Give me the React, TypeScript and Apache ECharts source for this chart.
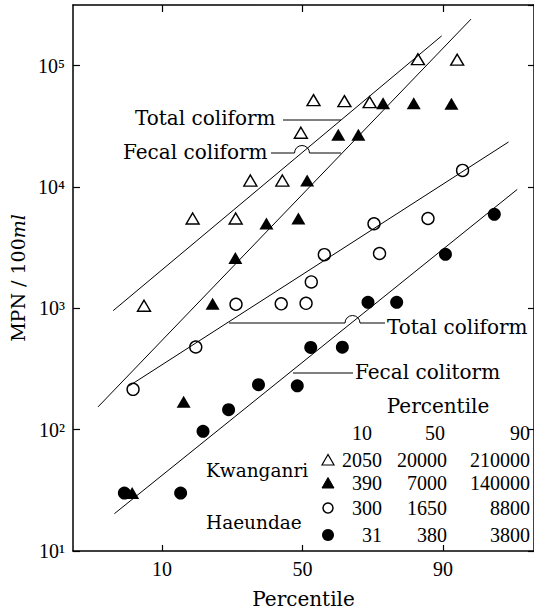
import React, { useEffect, useRef } from "react";
import * as echarts from "echarts";

// ---------- data (percentile %, MPN/100ml) ----------
const kwTotalPct = [7.4, 15.8, 27.1, 31.7, 42.7, 49.4, 54.0, 64.9, 73.0, 85.4, 92.1];
const kwTotalMPN = [1050, 5500, 5500, 11300, 11300, 28000, 52000, 51000, 50000, 113000, 112000];

const kwFecalPct = [6.0, 13.9, 20.6, 27.0, 37.1, 48.5, 51.7, 62.8, 69.5, 76.9, 84.5, 91.3];
const kwFecalMPN = [30, 170, 1090, 2600, 5000, 5500, 11300, 27000, 27000, 49000, 49000, 48500];

const hdTotalPct = [6.1, 16.5, 27.2, 42.3, 51.3, 53.2, 57.9, 74.3, 75.9, 87.4, 92.8];
const hdTotalMPN = [215, 480, 1080, 1090, 1100, 1650, 2770, 4980, 2830, 5500, 13700];

const hdFecalPct = [5.2, 13.3, 18.2, 25.0, 34.4, 48.1, 53.0, 64.2, 72.5, 80.5, 90.4, 96.0];
const hdFecalMPN = [30, 30, 97, 146, 235, 230, 476, 478, 1120, 1120, 2790, 5960];

// fitted lines: [start, end]
const kwTotalLinePct = [4.2, 89.8];
const kwTotalLineMPN = [957, 176000];
const kwFecalLinePct = [3.1, 93.8];
const kwFecalLineMPN = [154, 242000];
const hdTotalLinePct = [5.7, 97.0];
const hdTotalLineMPN = [230, 23500];
const hdFecalLinePct = [4.3, 97.5];
const hdFecalLineMPN = [20.3, 9550];

// axes
const xTickPct = [10, 50, 90];
const xRangePct = [1.81, 98.27];
const yMin = 10;
const yMax = 316228;

// summary table
const tablePct = [10, 50, 90];
const tableKwTotal = [2050, 20000, 210000];
const tableKwFecal = [390, 7000, 140000];
const tableHdTotal = [300, 1650, 8800];
const tableHdFecal = [31, 380, 3800];

// ---------- helpers ----------
function probit(p: number): number {
  const a = [-3.969683028665376e1, 2.209460984245205e2, -2.759285104469687e2, 1.38357751867269e2, -3.066479806614716e1, 2.506628277459239];
  const b = [-5.447609879822406e1, 1.615858368580409e2, -1.556989798598866e2, 6.680131188771972e1, -1.328068155288572e1];
  const c = [-7.784894002430293e-3, -3.223964580411365e-1, -2.400758277161838, -2.549732539343734, 4.374664141464968, 2.938163982698783];
  const d = [7.784695709041462e-3, 3.224671290700398e-1, 2.445134137142996, 3.754408661907416];
  const pl = 0.02425;
  if (p < pl) {
    const q = Math.sqrt(-2 * Math.log(p));
    return (((((c[0] * q + c[1]) * q + c[2]) * q + c[3]) * q + c[4]) * q + c[5]) / ((((d[0] * q + d[1]) * q + d[2]) * q + d[3]) * q + 1);
  }
  if (p <= 1 - pl) {
    const q = p - 0.5;
    const r = q * q;
    return ((((((a[0] * r + a[1]) * r + a[2]) * r + a[3]) * r + a[4]) * r + a[5]) * q) / (((((b[0] * r + b[1]) * r + b[2]) * r + b[3]) * r + b[4]) * r + 1);
  }
  const q = Math.sqrt(-2 * Math.log(1 - p));
  return -(((((c[0] * q + c[1]) * q + c[2]) * q + c[3]) * q + c[4]) * q + c[5]) / ((((d[0] * q + d[1]) * q + d[2]) * q + d[3]) * q + 1);
}
const z = (pct: number) => probit(pct / 100);
const pts = (pcts: number[], vals: number[]) => pcts.map((p, i) => [z(p), vals[i]]);

const SUP: Record<number, string> = { 1: "¹", 2: "²", 3: "³", 4: "⁴", 5: "⁵" };
const xTickZ = xTickPct.map(z);

const WORD_FONT = "'DejaVu Serif', serif";
const NUM_FONT = "'Liberation Serif', serif";

export default function App() {
  const ref = useRef<HTMLDivElement>(null);
  useEffect(() => {
    document.body.style.margin = "0";
    if (!ref.current) return;
    const chart = echarts.init(ref.current, undefined, { renderer: "svg" });

    const blk = "#000";
    const openStyle = { color: "rgba(255,255,255,0)", borderColor: blk, borderWidth: 1.4, opacity: 1 };
    const fillStyle = { color: blk, borderColor: blk, borderWidth: 0, opacity: 1 };

    const lineSeries = (pcts: number[], vals: number[]) => ({
      type: "line",
      data: pts(pcts, vals),
      showSymbol: false,
      symbol: "none",
      silent: true,
      lineStyle: { color: blk, width: 1 },
      z: 2,
    });

    const xLabel = (v: number) => {
      const i = xTickZ.findIndex((t) => Math.abs(t - v) < 1e-6);
      return i >= 0 ? String(xTickPct[i]) : "";
    };
    const yLabel = (v: number) => {
      const e = Math.log10(v);
      const r = Math.round(e);
      return Math.abs(e - r) < 1e-6 && SUP[r] ? "10" + SUP[r] : "";
    };

    const txt = (text: string, x: number, y: number, opts: any = {}) => ({
      type: "text",
      x,
      y,
      silent: true,
      style: {
        text,
        fill: blk,
        fontFamily: opts.family || WORD_FONT,
        fontSize: opts.size || 20,
        align: opts.align || "left",
        verticalAlign: "middle",
      },
    });
    const seg = (x1: number, y1: number, x2: number, y2: number) => ({
      type: "line",
      silent: true,
      shape: { x1, y1, x2, y2 },
      style: { stroke: blk, lineWidth: 1 },
    });
    const hop = (cx: number, cy: number, r: number) => ({
      type: "arc",
      silent: true,
      shape: { cx, cy, r, startAngle: Math.PI, endAngle: 2 * Math.PI, clockwise: true },
      style: { stroke: blk, lineWidth: 1, fill: null },
    });

    // table layout
    const colRight = [382, 447, 530];
    const rowY = [460, 483, 508, 535];
    const markX = 328;
    const rows = [tableKwTotal, tableKwFecal, tableHdTotal, tableHdFecal];
    const tableTexts: any[] = [];
    rows.forEach((row, ri) =>
      row.forEach((v, ci) =>
        tableTexts.push(txt(String(v), colRight[ci], rowY[ri], { family: NUM_FONT, align: "right" }))
      )
    );
    const headRight = [372, 445, 530];
    tablePct.forEach((p, ci) => tableTexts.push(txt(String(p), headRight[ci], 433, { family: NUM_FONT, align: "right" })));

    const triPts = (x: number, y: number) => [[x, y - 5.5], [x - 6, y + 5], [x + 6, y + 5]];
    const tableMarks = [
      { type: "polygon", silent: true, shape: { points: triPts(markX, rowY[0]) }, style: { fill: "none", stroke: blk, lineWidth: 1.2 } },
      { type: "polygon", silent: true, shape: { points: triPts(markX, rowY[1]) }, style: { fill: blk, stroke: blk, lineWidth: 1 } },
      { type: "circle", silent: true, shape: { cx: markX, cy: rowY[2], r: 5 }, style: { fill: "none", stroke: blk, lineWidth: 1.5 } },
      { type: "circle", silent: true, shape: { cx: markX, cy: rowY[3], r: 6 }, style: { fill: blk, stroke: blk, lineWidth: 0 } },
    ];

    const axisLineStyle = { color: blk, width: 1.5 };

    chart.setOption({
      animation: false,
      backgroundColor: "#fff",
      grid: { left: 70, right: 0, top: 5, bottom: 59, containLabel: false },
      xAxis: [
        {
          type: "value",
          position: "bottom",
          min: z(xRangePct[0]),
          max: z(xRangePct[1]),
          axisLine: { show: true, onZero: false, lineStyle: axisLineStyle },
          axisTick: { show: true, inside: true, length: 6, customValues: xTickZ, lineStyle: { color: blk, width: 1.2 } },
          axisLabel: { customValues: xTickZ, formatter: xLabel, margin: 8, color: blk, fontFamily: NUM_FONT, fontSize: 20 },
          splitLine: { show: false },
          name: "Percentile",
          nameLocation: "middle",
          nameGap: 38,
          nameTextStyle: { color: blk, fontFamily: WORD_FONT, fontSize: 20 },
        },
        {
          type: "value",
          position: "top",
          min: z(xRangePct[0]),
          max: z(xRangePct[1]),
          axisLine: { show: true, onZero: false, lineStyle: axisLineStyle },
          axisTick: { show: true, inside: true, length: 7, customValues: xTickZ, lineStyle: { color: blk, width: 1.2 } },
          axisLabel: { show: false },
          splitLine: { show: false },
        },
      ],
      yAxis: [
        {
          type: "log",
          logBase: 10,
          position: "left",
          min: yMin,
          max: yMax,
          interval: 1,
          axisLine: { show: true, onZero: false, lineStyle: axisLineStyle },
          axisTick: { show: true, inside: true, length: 7, lineStyle: { color: blk, width: 1.2 } },
          minorTick: { show: false },
          axisLabel: { formatter: yLabel, margin: 8, color: blk, fontFamily: NUM_FONT, fontSize: 20, showMaxLabel: false },
          splitLine: { show: false },
          name: "{a|MPN / 100}{b|ml}",
          nameLocation: "middle",
          nameGap: 46,
          nameTextStyle: {
            rich: {
              a: { color: blk, fontFamily: WORD_FONT, fontSize: 19 },
              b: { color: blk, fontFamily: WORD_FONT, fontSize: 19, fontStyle: "italic" },
            },
          },
        },
        {
          type: "log",
          logBase: 10,
          position: "right",
          min: yMin,
          max: yMax,
          interval: 1,
          axisLine: { show: true, onZero: false, lineStyle: axisLineStyle },
          axisTick: { show: true, inside: true, length: 6, lineStyle: { color: blk, width: 1.2 } },
          axisLabel: { show: false },
          splitLine: { show: false },
        },
      ],
      series: [
        lineSeries(kwTotalLinePct, kwTotalLineMPN),
        lineSeries(kwFecalLinePct, kwFecalLineMPN),
        lineSeries(hdTotalLinePct, hdTotalLineMPN),
        lineSeries(hdFecalLinePct, hdFecalLineMPN),
        { type: "scatter", name: "Kwanganri total", data: pts(kwTotalPct, kwTotalMPN), symbol: "triangle", symbolSize: [13, 11], itemStyle: openStyle, z: 3 },
        { type: "scatter", name: "Kwanganri fecal", data: pts(kwFecalPct, kwFecalMPN), symbol: "triangle", symbolSize: [14, 12], itemStyle: fillStyle, z: 3 },
        { type: "scatter", name: "Haeundae total", data: pts(hdTotalPct, hdTotalMPN), symbol: "circle", symbolSize: 12, itemStyle: openStyle, z: 3 },
        { type: "scatter", name: "Haeundae fecal", data: pts(hdFecalPct, hdFecalMPN), symbol: "circle", symbolSize: 13, itemStyle: fillStyle, z: 3 },
      ],
      graphic: [
        // upper annotations (Kwanganri)
        txt("Total coliform", 135, 118),
        seg(283, 120, 341, 120),
        txt("Fecal coliform", 123, 152),
        seg(271, 153, 294.5, 153),
        hop(302, 153, 7.5),
        seg(309.5, 153, 341, 153),
        // lower annotations (Haeundae)
        seg(229, 323, 345, 323),
        hop(352.5, 323, 7.5),
        seg(360, 323, 385, 323),
        txt("Total coliform", 387, 327),
        seg(293, 373, 353, 373),
        txt("Fecal colitorm", 355, 372),
        // table
        txt("Percentile", 438, 406, { align: "center" }),
        txt("Kwanganri", 206, 470, { size: 18.5 }),
        txt("Haeundae", 206, 522, { size: 18.5 }),
        ...tableMarks,
        ...tableTexts,
      ],
    });
    return () => chart.dispose();
  }, []);
  return <div ref={ref} style={{ width: 534, height: 614 }} />;
}
